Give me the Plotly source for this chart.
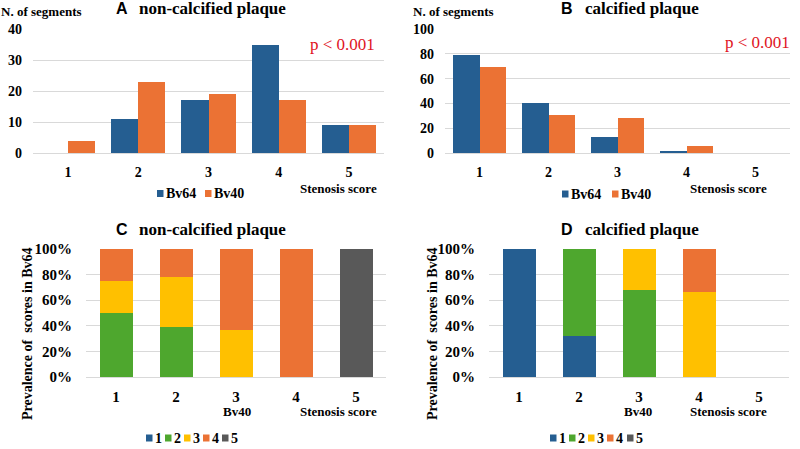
import plotly.graph_objects as go

# ---------------- data ----------------
scores = ["1", "2", "3", "4", "5"]
series_names = ["Bv64", "Bv40"]
# Panel A: non-calcified plaque, number of segments
a_bv64 = [0, 11, 17, 35, 9]
a_bv40 = [4, 23, 19, 17, 9]
# Panel B: calcified plaque, number of segments
b_bv64 = [79, 40, 13, 2, 0]
b_bv40 = [69, 31, 28, 6, 0]
# Panel C: non-calcified, counts of Bv64 score (keys) within each Bv40 score (positions)
c_counts = {
    "1": [0, 0, 0, 0, 0],
    "2": [2, 9, 0, 0, 0],
    "3": [1, 9, 7, 0, 0],
    "4": [1, 5, 12, 17, 0],
    "5": [0, 0, 0, 0, 9],
}
# Panel D: calcified, counts of Bv64 score within each Bv40 score
d_counts = {
    "1": [69, 10, 0, 0, 0],
    "2": [0, 21, 19, 0, 0],
    "3": [0, 0, 9, 4, 0],
    "4": [0, 0, 0, 2, 0],
    "5": [0, 0, 0, 0, 0],
}

BLUE = "#255E91"
ORANGE = "#EB7234"
GREEN = "#4EA72E"
YELLOW = "#FFC000"
GRAY = "#595959"
series_colors = {"Bv64": BLUE, "Bv40": ORANGE}
score_colors = {"1": BLUE, "2": GREEN, "3": YELLOW, "4": ORANGE, "5": GRAY}
GRID = "#D9D9D9"
SERIF = "Liberation Serif"
SANS = "Liberation Sans"

W, H = 800, 449
def px(x):
    return x / W
def py(y):
    return 1 - y / H

fig = go.Figure()

# --- A & B grouped bars (manual offsets, base=0 => not stacked) ---
for (v64, v40, xa, ya) in [(a_bv64, a_bv40, "x", "y"), (b_bv64, b_bv40, "x2", "y2")]:
    fig.add_trace(go.Bar(x=scores, y=v64, base=[0] * 5, width=0.385, offset=-0.385,
                         marker=dict(color=BLUE, line=dict(width=0)), name="Bv64",
                         xaxis=xa, yaxis=ya))
    fig.add_trace(go.Bar(x=scores, y=v40, base=[0] * 5, width=0.385, offset=0,
                         marker=dict(color=ORANGE, line=dict(width=0)), name="Bv40",
                         xaxis=xa, yaxis=ya))

# --- C & D stacked percentages ---
for (counts, xa, ya) in [(c_counts, "x3", "y3"), (d_counts, "x4", "y4")]:
    totals = [sum(counts[s][i] for s in scores) for i in range(5)]
    for s in scores:
        pct = [(counts[s][i] / totals[i] * 100) if totals[i] else 0 for i in range(5)]
        fig.add_trace(go.Bar(x=scores, y=pct, name=s,
                             marker=dict(color=score_colors[s], line=dict(width=0)),
                             xaxis=xa, yaxis=ya))

def tf(size):
    return dict(family=SERIF, size=size, color="#000000", weight="bold")

def xax(dom, anchor, size):
    return dict(domain=dom, anchor=anchor, type="category", showgrid=False, showline=True,
                linecolor=GRID, linewidth=1, ticks="", tickfont=tf(size),
                ticklabelstandoff=6, fixedrange=True)

def yax(dom, anchor, rng, dtick, size, suffix="", standoff=8):
    return dict(domain=dom, anchor=anchor, range=rng, dtick=dtick, showgrid=True,
                gridcolor=GRID, gridwidth=1, zeroline=False, showline=False, ticks="",
                ticksuffix=suffix, tickfont=tf(size), ticklabelstandoff=standoff,
                fixedrange=True)

top_dom = [py(153), py(29)]
bot_dom = [py(377), py(249)]

fig.update_layout(
    width=W, height=H,
    margin=dict(l=0, r=0, t=0, b=0, autoexpand=False),
    paper_bgcolor="white", plot_bgcolor="white",
    barmode="stack", bargap=0.45,
    xaxis=xax([px(33), px(384)], "y", 14),
    yaxis=yax(top_dom, "x", [0, 40], 10, 14, standoff=10),
    xaxis2=xax([px(445), px(790)], "y2", 14),
    yaxis2=yax(top_dom, "x2", [0, 100], 20, 14, standoff=10),
    xaxis3=xax([px(86), px(386)], "y3", 15),
    yaxis3=yax(bot_dom, "x3", [0, 100], 20, 15, "%", standoff=13),
    xaxis4=xax([px(489), px(789)], "y4", 15),
    yaxis4=yax(bot_dom, "x4", [0, 100], 20, 15, "%", standoff=13),
    font=dict(family=SERIF, size=14, color="#000000"),
    showlegend=False,
)

ann = []
shapes = []
def text(x, y, t, size=14, bold=True, color="#000000", xanchor="center", family=SERIF, angle=0):
    ann.append(dict(x=px(x), y=py(y), xref="paper", yref="paper", text=t, showarrow=False,
                    xanchor=xanchor, yanchor="middle", textangle=angle, borderpad=0,
                    font=dict(family=family, size=size, color=color,
                              weight="bold" if bold else "normal")))

# compact legends: small colour swatch followed by bold label
def legend_row(starts, y, labels, colors):
    for x0, lab in zip(starts, labels):
        shapes.append(dict(type="rect", xref="paper", yref="paper",
                           x0=px(x0), x1=px(x0 + 6.5), y0=py(y + 3.5), y1=py(y - 3.5),
                           fillcolor=colors[lab], line=dict(width=0)))
        text(x0 + 8, y, lab, size=14, xanchor="left")

legend_row([157, 205], 193.5, series_names, series_colors)
legend_row([562, 612], 194, series_names, series_colors)
legend_row([146, 165, 184, 203, 222], 438, scores, score_colors)
legend_row([550, 569, 588, 607, 627], 438, scores, score_colors)

# panel titles: sans letter + serif words
for (lx, wx, y, letter, words) in [(115, 138, 9, "A", "non-calcified plaque"),
                                   (560, 584, 9, "B", "calcified plaque"),
                                   (115, 138, 229, "C", "non-calcified plaque"),
                                   (560, 584, 229, "D", "calcified plaque")]:
    text(lx, y, letter, size=16, xanchor="left", family=SANS)
    text(wx, y, words, size=17, xanchor="left")

text(0, 11, "N. of segments", size=13, xanchor="left")
text(412, 11, "N. of segments", size=13, xanchor="left")

text(342, 44, "p &lt; 0.001", size=17, bold=False, color="#E0141E")
text(757, 43, "p &lt; 0.001", size=17, bold=False, color="#E0141E")

text(338, 188, "Stenosis score", size=13)
text(728, 188, "Stenosis score", size=13)
text(338, 411, "Stenosis score", size=13)
text(728, 411, "Stenosis score", size=13)
text(237, 411, "Bv40", size=13)
text(638, 411, "Bv40", size=13)

text(27, 334, "Prevalence of  scores in Bv64", size=14, angle=-90)
text(432, 334, "Prevalence of  scores in Bv64", size=14, angle=-90)

fig.update_layout(annotations=ann, shapes=shapes)

fig.write_html("out.html", config={"displayModeBar": False},
               post_script="document.body.style.margin='0';document.body.style.padding='0';")
